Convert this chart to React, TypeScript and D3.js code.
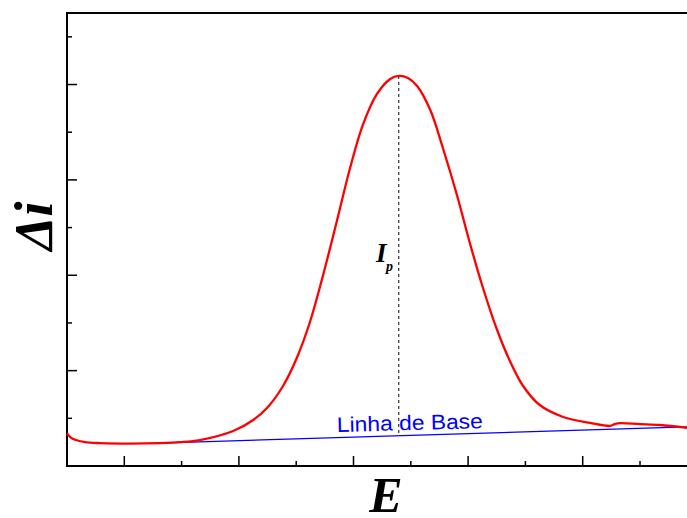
import React from "react";
import * as d3 from "d3";

// Red voltammogram curve (E in arbitrary units, Δi in arbitrary units)
const curveE = [0, 0.052, 0.14, 0.314, 0.576, 1.1, 1.62, 1.97, 2.32, 2.9, 3.25, 3.49, 3.77, 4.01, 4.24, 4.47, 4.71, 4.94, 5.17, 5.41, 5.64, 5.79, 5.95, 6.11, 6.34, 6.56, 6.81, 7.03, 7.26, 7.5, 7.73, 7.96, 8.25, 8.66, 9.13, 9.48, 9.56, 9.65, 10.0, 10.35, 10.82];
const curveI = [0.69, 0.61, 0.55, 0.5, 0.48, 0.47, 0.48, 0.5, 0.545, 0.734, 0.965, 1.216, 1.678, 2.265, 3.02, 4.006, 5.138, 6.25, 7.173, 7.802, 8.117, 8.18, 8.138, 7.97, 7.466, 6.669, 5.663, 4.677, 3.733, 2.873, 2.202, 1.678, 1.279, 1.028, 0.902, 0.84, 0.88, 0.9, 0.88, 0.86, 0.8];

// Baseline (Linha de Base)
const baseE = [1.62, 10.82];
const baseI = [0.48, 0.82];

// Peak
const peakE = 5.79;
const peakI = 8.18;

// Axes
const xDomain = [0, 10.82];
const yDomain = [0, 9.5];
const xMajorTicks = [1, 3, 5, 7, 9];
const xMinorTicks = [2, 4, 6, 8, 10];
const yMajorTicks = [2, 4, 6, 8];
const yMinorTicks = [1, 3, 5, 7, 9];

const baselineLabel = "Linha de Base";
const xLabel = "E";
const yLabel = "Δi";

export default function App() {
  const W = 687;
  const H = 518;
  const left = 67;
  const right = 687;
  const top = 13;
  const bottom = 466;

  const x = d3.scaleLinear().domain(xDomain).range([left, right]);
  const y = d3.scaleLinear().domain(yDomain).range([bottom, top]);

  const pts = curveE.map((e, i) => [e, curveI[i]] as [number, number]);
  const line = d3
    .line<[number, number]>()
    .x((d) => x(d[0]))
    .y((d) => y(d[1]))
    .curve(d3.curveCatmullRom.alpha(0.5));

  const basePts = baseE.map((e, i) => [e, baseI[i]] as [number, number]);
  const baseLine = d3
    .line<[number, number]>()
    .x((d) => x(d[0]))
    .y((d) => y(d[1]));

  const baseAt = (e: number) =>
    baseI[0] + ((e - baseE[0]) / (baseE[1] - baseE[0])) * (baseI[1] - baseI[0]);

  const serif = "'Liberation Serif', 'Times New Roman', serif";
  const sans = "'Liberation Sans', Arial, sans-serif";

  return (
    <svg
      width={W}
      height={H}
      style={{ position: "absolute", left: 0, top: 0, background: "#fff" }}
    >
      {/* axes frame */}
      <line x1={left} y1={top} x2={right} y2={top} stroke="#000" strokeWidth={2} />
      <line x1={left} y1={top - 1} x2={left} y2={bottom + 1} stroke="#000" strokeWidth={2} />
      <line x1={left - 1} y1={bottom} x2={right} y2={bottom} stroke="#000" strokeWidth={2} />

      {/* y ticks */}
      {yMajorTicks.map((t) => (
        <line key={"ym" + t} x1={left} x2={left + 10} y1={y(t)} y2={y(t)} stroke="#000" strokeWidth={1.5} />
      ))}
      {yMinorTicks.map((t) => (
        <line key={"yn" + t} x1={left} x2={left + 5} y1={y(t)} y2={y(t)} stroke="#000" strokeWidth={1.5} />
      ))}
      {/* x ticks */}
      {xMajorTicks.map((t) => (
        <line key={"xm" + t} x1={x(t)} x2={x(t)} y1={bottom} y2={bottom - 10} stroke="#000" strokeWidth={1.5} />
      ))}
      {xMinorTicks.map((t) => (
        <line key={"xn" + t} x1={x(t)} x2={x(t)} y1={bottom} y2={bottom - 5} stroke="#000" strokeWidth={1.5} />
      ))}

      {/* baseline */}
      <path d={baseLine(basePts) || ""} fill="none" stroke="#0000ff" strokeWidth={1.3} />

      {/* dashed peak line */}
      <line
        x1={x(peakE)}
        x2={x(peakE)}
        y1={y(peakI)}
        y2={y(baseAt(peakE))}
        stroke="#000"
        strokeWidth={1}
        strokeDasharray="3,3"
      />

      {/* curve */}
      <path d={line(pts) || ""} fill="none" stroke="#ff0000" strokeWidth={2.3} />

      {/* baseline label */}
      <text
        x={337}
        y={432}
        fill="#0000ff"
        fontFamily={sans}
        fontSize={21}
        textLength={146}
        lengthAdjust="spacingAndGlyphs"
        transform="rotate(-1.5 337 432)"
      >
        {baselineLabel}
      </text>

      {/* Ip label */}
      <text x={376} y={262} fontFamily={serif} fontWeight="bold" fontStyle="italic" fontSize={27}>
        I
      </text>
      <text x={386} y={271} fontFamily={serif} fontWeight="bold" fontStyle="italic" fontSize={14}>
        p
      </text>

      {/* axis labels */}
      <text
        x={386}
        y={512}
        textAnchor="middle"
        fontFamily={serif}
        fontWeight="bold"
        fontStyle="italic"
        fontSize={50}
      >
        {xLabel}
      </text>
      <text
        transform="translate(52 226) rotate(-90)"
        textAnchor="middle"
        fontFamily={serif}
        fontWeight="bold"
        fontStyle="italic"
        fontSize={54}
      >
        {yLabel}
      </text>
    </svg>
  );
}
